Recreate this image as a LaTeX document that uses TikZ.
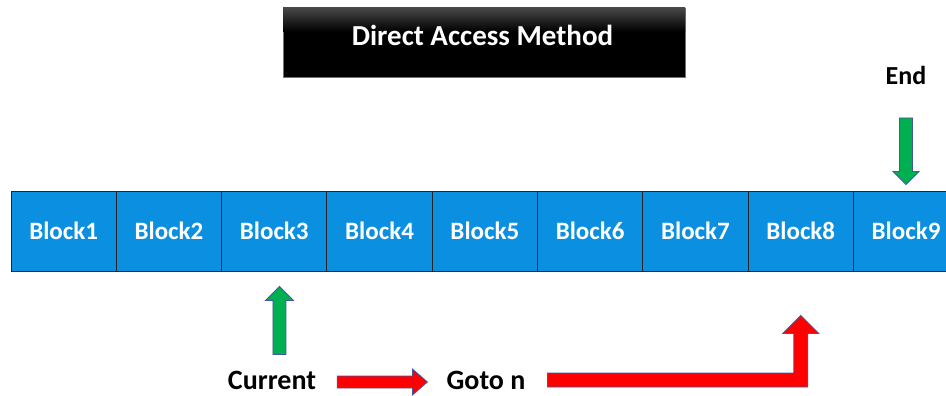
\documentclass[tikz,border=0pt]{standalone}
\usepackage{fontspec}
\setmainfont{Carlito}
\usetikzlibrary{calc}
\definecolor{blockblue}{RGB}{11,143,225}
\definecolor{arrowgreen}{RGB}{0,176,80}
\definecolor{arrowred}{RGB}{255,0,0}
\definecolor{arrowedge}{RGB}{65,90,160}
\newcommand{\fatarrow}[6][]{%
  % #2 start, #3 tip, #4 shaft half width, #5 head half width, #6 head length
  \coordinate (hb) at ($(#3)!#6!(#2)$);
  \path[#1] ($(#2)!#4!90:(#3)$) -- ($(hb)!#4!-90:(#2)$) -- ($(hb)!#5!-90:(#2)$) -- (#3)
    -- ($(hb)!#5!90:(#2)$) -- ($(hb)!#4!90:(#2)$) -- ($(#2)!#4!-90:(#3)$) -- cycle;}
\begin{document}
\begin{tikzpicture}[x=1pt,y=-1pt,
  blockbox/.style={draw=black!85, line width=1pt, fill=blockblue, minimum width=105.3pt,
    minimum height=80pt, inner sep=0pt, text=white, font=\fontsize{25}{30}\selectfont\bfseries},
  titlebox/.style={draw=black!55, line width=0.8pt, fill=black, minimum width=402pt,
    minimum height=69pt, inner sep=0pt},
  titletxt/.style={text=white, inner sep=0pt, font=\fontsize{29}{34}\selectfont\bfseries},
  lbl/.style={text=black, inner sep=0pt, font=\fontsize{28}{33}\selectfont\bfseries},
  greenarrow/.style={fill=arrowgreen, draw=arrowedge, line width=0.8pt, line join=miter},
  redarrow/.style={fill=arrowred, draw=arrowedge, line width=0.8pt, line join=miter}]
\clip (0,0) rectangle (946,396);
\fill[white] (0,0) rectangle (946,396);
% title
\node[titlebox] (title) at (484,42.5) {};
\shade[top color=black!72!white, bottom color=black] ($(title.north west)+(0.4,0.4)$) rectangle ($(title.north east)+(-0.4,24)$);
\node[titletxt] (titletext) at (482.5,35) {Direct Access Method};
% blocks
\foreach \i in {1,...,9}
  \node[blockbox] (b\i) at ({11+105.3*(\i-0.5)},231) {Block\i};
% labels
\node[lbl, font=\fontsize{26}{31}\selectfont\bfseries] (endl) at (906,75.5) {End};
\node[lbl] (cur) at (272,380.5) {Current};
\node[lbl] (goto) at (486,380.5) {Goto n};
% End arrow
\coordinate (es) at ($(endl.south)+(0,33)$);
\coordinate (et) at ($(b9.north)+(0,-6)$);
\fatarrow[greenarrow]{es}{et}{6.5pt}{13pt}{13pt}
% current arrow up
\coordinate (cs) at ($(b3.south)+(5.2,83)$);
\coordinate (ct) at ($(b3.south)+(5.2,15)$);
\fatarrow[greenarrow]{cs}{ct}{6.5pt}{14pt}{14pt}
% current to goto
\coordinate (rs) at ($(cur.east)+(21,1.5)$);
\coordinate (rt) at ($(goto.west)+(-19,1.5)$);
\fatarrow[redarrow]{rs}{rt}{6pt}{13pt}{15pt}
% goto to block8 bent arrow
\coordinate (bs) at ($(goto.east)+(22,-0.5)$);
\coordinate (bc) at (b8.south |- bs);
\coordinate (bt) at ($(b8.south)+(0,44)$);
\path[redarrow] ($(bs)+(0,-7)$) -- ($(bc)+(-7,-7)$) -- ($(bt)+(-7,18)$) -- ($(bt)+(-18,18)$)
  -- (bt) -- ($(bt)+(18,18)$) -- ($(bt)+(7,18)$) -- ($(bc)+(7,7)$) -- ($(bs)+(0,7)$) -- cycle;
\end{tikzpicture}
\end{document}
